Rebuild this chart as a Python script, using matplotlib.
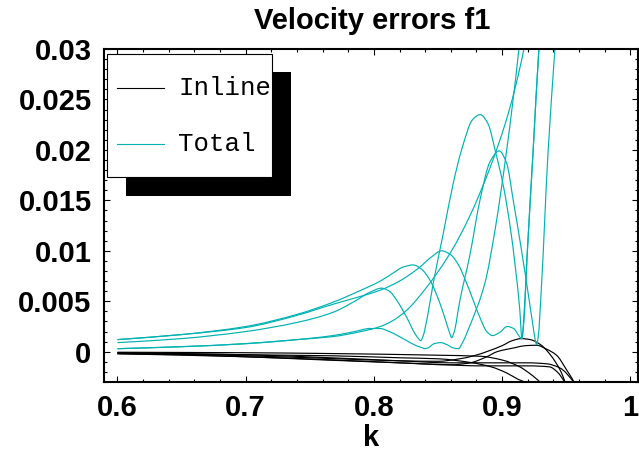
import matplotlib
matplotlib.use("Agg")
import matplotlib.pyplot as plt
from matplotlib.patches import Rectangle, PathPatch
from matplotlib.path import Path
from matplotlib.lines import Line2D
from matplotlib.ticker import FixedLocator, MultipleLocator

# Total error curves (cyan)
A_k = [0.6, 0.65, 0.7, 0.74, 0.768, 0.785, 0.797, 0.806, 0.812, 0.8178, 0.8256, 0.832, 0.8348, 0.8365, 0.8385, 0.8418,
       0.8463, 0.8541, 0.8619, 0.8684, 0.877, 0.8829, 0.889, 0.8947, 0.9012, 0.9064, 0.9104, 0.9137, 0.9155, 0.917,
       0.9195, 0.9242, 0.9287, 0.931]
A_v = [0.0009, 0.0013, 0.0020, 0.0029, 0.0039, 0.0050, 0.0059, 0.0063, 0.0060, 0.0051, 0.0034, 0.0018, 0.0013, 0.0011, 0.0016, 0.0035,
       0.0068, 0.0117, 0.0167, 0.0200, 0.0230, 0.0235, 0.0226, 0.0199, 0.0163, 0.0123, 0.0083, 0.0043, 0.0013, 0.0035,
       0.0095, 0.0199, 0.0300, 0.0340]

B_k = [0.6, 0.65, 0.7, 0.74, 0.768, 0.79, 0.805, 0.815, 0.823, 0.8307, 0.837, 0.8437, 0.8515, 0.8567, 0.859, 0.8606, 0.8625,
       0.8671, 0.8749, 0.8827, 0.8905, 0.8977, 0.9035, 0.9087, 0.9152, 0.9203, 0.9242, 0.9258, 0.9269, 0.9282, 0.9305,
       0.9359, 0.9412, 0.943]
B_v = [0.0012, 0.0017, 0.0025, 0.0037, 0.0049, 0.0061, 0.0070, 0.0078, 0.0084, 0.0086, 0.0082, 0.0071, 0.0048, 0.0028, 0.0019, 0.0014, 0.0019,
       0.0051, 0.0096, 0.0150, 0.0188, 0.0199, 0.0187, 0.0150, 0.0100, 0.0058, 0.0025, 0.0012, 0.0007, 0.0015, 0.0060,
       0.0199, 0.0300, 0.0335]

C_k = [0.6, 0.65, 0.7, 0.74, 0.768, 0.785, 0.797, 0.8048, 0.812, 0.8256, 0.833, 0.8375, 0.8398, 0.8425, 0.847, 0.852, 0.857,
       0.8615, 0.8658, 0.8695, 0.8749, 0.8866, 0.8944, 0.9035, 0.9131, 0.915]
C_v = [0.0003, 0.0005, 0.0008, 0.0012, 0.0016, 0.0020, 0.0023, 0.0023, 0.0020, 0.0011, 0.0006, 0.0004, 0.0003, 0.0004, 0.0008, 0.0009, 0.0007,
       0.0004, 0.0003, 0.0010, 0.0026, 0.0068, 0.0120, 0.0199, 0.0300, 0.0325]

D_k = [0.6, 0.65, 0.7, 0.74, 0.768, 0.79, 0.805, 0.82, 0.835, 0.845, 0.8528, 0.86, 0.866, 0.8723, 0.8827, 0.888, 0.8925,
       0.898, 0.904, 0.909, 0.913, 0.9152, 0.917, 0.9195, 0.9242, 0.9287, 0.931]
D_v = [0.0012, 0.0017, 0.0024, 0.0036, 0.0047, 0.0055, 0.0061, 0.0070, 0.0083, 0.0094, 0.0100, 0.0096, 0.0086, 0.0068, 0.0034, 0.0020, 0.0016,
       0.0019, 0.0025, 0.0023, 0.0016, 0.0013, 0.0030, 0.0095, 0.0199, 0.0300, 0.0340]

E_k = [0.6, 0.65, 0.7, 0.74, 0.768, 0.79, 0.805, 0.815, 0.8255, 0.84, 0.8606, 0.875, 0.8905, 0.905, 0.917, 0.919]
E_v = [0.0003, 0.0005, 0.0008, 0.0012, 0.0015, 0.0020, 0.0025, 0.0031, 0.0041, 0.0062, 0.0100, 0.0135, 0.0182, 0.0237, 0.0300, 0.0315]

# Inline error curves (black)
K1_k = [0.6, 0.65, 0.7, 0.766, 0.82, 0.85, 0.867, 0.878, 0.89, 0.9, 0.908, 0.915, 0.922, 0.93, 0.937, 0.942, 0.946, 0.9494, 0.951]
K1_v = [-0.00015, -0.00025, -0.0004, -0.00067, -0.0009, -0.00095, -0.0007, -0.0004, 0.0001, 0.0006, 0.0011, 0.0013, 0.0012, 0.0007, -0.0002, -0.0011, -0.0020, -0.0031, -0.0036]

K2_k = [0.6, 0.65, 0.7, 0.766, 0.82, 0.86, 0.875, 0.888, 0.896, 0.91, 0.918, 0.927, 0.934, 0.9425, 0.9503, 0.9564, 0.958]
K2_v = [-0.0002, -0.0003, -0.0005, -0.00084, -0.0011, -0.0013, -0.0011, -0.0005, 0.0000, 0.0004, 0.0006, 0.00064, 0.0003, -0.00035, -0.0018, -0.0031, -0.0036]

K3_k = [0.6, 0.7, 0.766, 0.82, 0.85, 0.877, 0.8915, 0.9035, 0.912, 0.919, 0.921]
K3_v = [-0.0001, -0.0003, -0.0004, -0.0006, -0.0007, -0.0011, -0.0015, -0.0021, -0.0027, -0.0031, -0.0033]

K4_k = [0.6, 0.7, 0.766, 0.8515, 0.883, 0.9006, 0.9138, 0.922, 0.9295, 0.931]
K4_v = [-0.00005, -0.0001, -0.00018, -0.00035, -0.00045, -0.00084, -0.0015, -0.0022, -0.0030, -0.0032]

K5_k = [0.6, 0.7, 0.766, 0.82, 0.859, 0.88, 0.9, 0.92, 0.937, 0.943, 0.9494, 0.951]
K5_v = [-0.0002, -0.0005, -0.0008, -0.0011, -0.0013, -0.0014, -0.0014, -0.0014, -0.0015, -0.0020, -0.0031, -0.0034]

K6_k = [0.6, 0.7, 0.766, 0.82, 0.859, 0.88, 0.9, 0.92, 0.935, 0.945, 0.9564, 0.958]
K6_v = [-0.0001, -0.0003, -0.0006, -0.0009, -0.0011, -0.0011, -0.0011, -0.0011, -0.0012, -0.0016, -0.0031, -0.0034]

total = [(A_k, A_v), (B_k, B_v), (C_k, C_v), (D_k, D_v), (E_k, E_v)]
inline = [(K1_k, K1_v), (K2_k, K2_v), (K3_k, K3_v), (K4_k, K4_v), (K5_k, K5_v), (K6_k, K6_v)]

x_ticks = [0.6, 0.7, 0.8, 0.9, 1.0]
x_labels = ["0.6", "0.7", "0.8", "0.9", "1"]
y_ticks = [0, 0.005, 0.01, 0.015, 0.02, 0.025, 0.03]
y_labels = ["0", "0.005", "0.01", "0.015", "0.02", "0.025", "0.03"]

cyan = "#00b2b2"
W, H = 639, 455


def smooth_path(x, y):
    # cubic bezier through the read points (monotone hermite slopes), drawn in data coords
    n = len(x)
    h = [x[i + 1] - x[i] for i in range(n - 1)]
    d = [(y[i + 1] - y[i]) / h[i] for i in range(n - 1)]
    m = [d[0]] + [0.0] * (n - 2) + [d[-1]]
    for i in range(1, n - 1):
        if d[i - 1] * d[i] > 0:
            w1 = 2 * h[i] + h[i - 1]
            w2 = h[i] + 2 * h[i - 1]
            m[i] = (w1 + w2) / (w1 / d[i - 1] + w2 / d[i])
    verts = [(x[0], y[0])]
    codes = [Path.MOVETO]
    for i in range(n - 1):
        verts += [(x[i] + h[i] / 3, y[i] + m[i] * h[i] / 3),
                  (x[i + 1] - h[i] / 3, y[i + 1] - m[i + 1] * h[i] / 3),
                  (x[i + 1], y[i + 1])]
        codes += [Path.CURVE4] * 3
    return Path(verts, codes)


fig = plt.figure(figsize=(W / 100, H / 100), dpi=100)
ax = fig.add_axes([104 / W, 1 - 382 / H, 534 / W, 333 / H])

for k, v in inline:
    ax.add_patch(PathPatch(smooth_path(k, v), fill=False, edgecolor="black", lw=0.85))
for k, v in total:
    ax.add_patch(PathPatch(smooth_path(k, v), fill=False, edgecolor=cyan, lw=0.85))

ax.set_xlim(0.5895, 1.006)
ax.set_ylim(-0.003, 0.03)
ax.xaxis.set_major_locator(FixedLocator(x_ticks))
ax.set_xticklabels(x_labels)
ax.yaxis.set_major_locator(FixedLocator(y_ticks))
ax.set_yticklabels(y_labels)
ax.xaxis.set_minor_locator(MultipleLocator(0.02))
ax.yaxis.set_minor_locator(MultipleLocator(0.001))
ax.tick_params(which="both", direction="in", top=True, right=True, width=0.8)
ax.tick_params(which="major", length=4.5, pad=9)
ax.tick_params(which="minor", length=2.2)
for lab in ax.get_xticklabels() + ax.get_yticklabels():
    lab.set_family("Liberation Sans")
    lab.set_fontsize(21)
    lab.set_weight("bold")
for s in ax.spines.values():
    s.set_linewidth(1.5)

ax.set_xlabel("k", family="Liberation Sans", fontsize=21, weight="bold", labelpad=1)
fig.text(372 / W, 1 - 21 / H, "Velocity errors f1", family="Liberation Sans", fontsize=21, weight="bold",
         ha="center", va="center")


# legend box with drop shadow
def fx(x):
    return x / W


def fy(y):
    return 1 - y / H


shadow = Rectangle((fx(126), fy(196)), (291 - 126) / W, (196 - 72) / H, transform=fig.transFigure,
                   facecolor="black", edgecolor="none", zorder=5)
box = Rectangle((fx(107), fy(177)), (272 - 107) / W, (177 - 54) / H, transform=fig.transFigure,
                facecolor="white", edgecolor="black", lw=0.8, zorder=6)
fig.patches.extend([shadow, box])
fig.lines.append(Line2D([fx(117), fx(164)], [fy(88), fy(88)], transform=fig.transFigure, color="black", lw=0.8, zorder=7))
fig.lines.append(Line2D([fx(117), fx(164)], [fy(144), fy(144)], transform=fig.transFigure, color=cyan, lw=0.8, zorder=7))
t1 = fig.text(fx(178), fy(88), "Inline", family="Liberation Mono", fontsize=18.5, va="center", zorder=7)
t2 = fig.text(fx(178), fy(144), "Total", family="Liberation Mono", fontsize=18.5, va="center", zorder=7)
for t in (t1, t2):
    t.set_clip_path(box)

fig.savefig("out.png", dpi=100)
